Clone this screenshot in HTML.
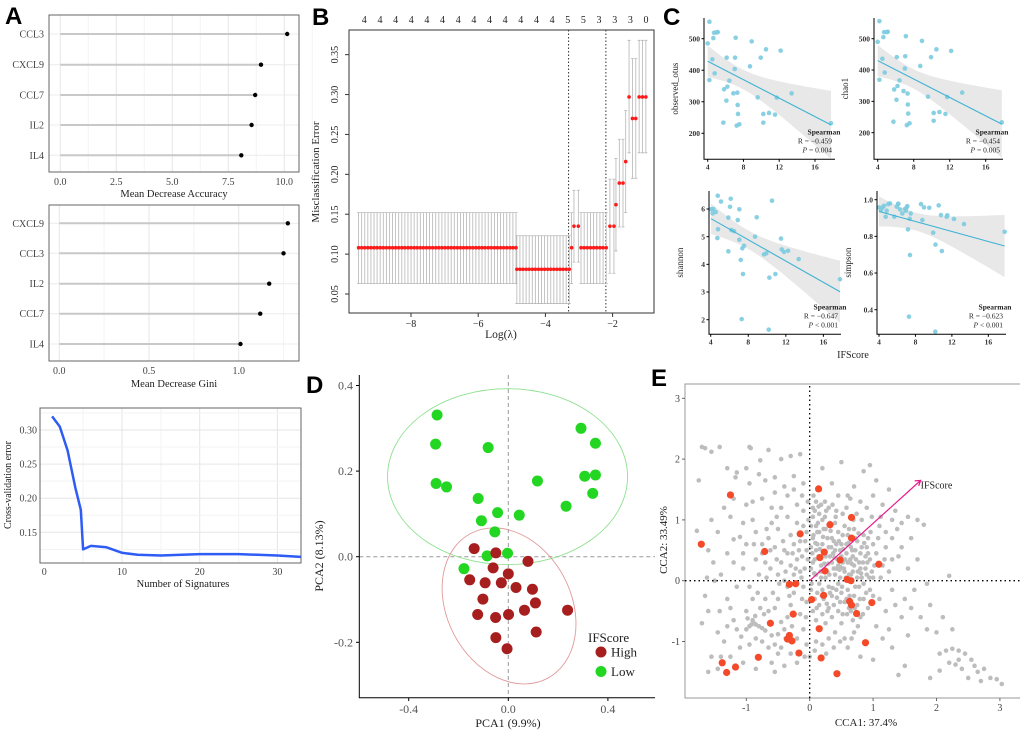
<!DOCTYPE html>
<html><head><meta charset="utf-8"><title>Multi-panel figure</title>
<style>
html,body{margin:0;padding:0;background:#fff;width:1020px;height:734px;overflow:hidden}
svg{display:block}
text{font-family:"Liberation Serif",serif}
.pl{font-family:"Liberation Sans",sans-serif;font-weight:bold;font-size:24px;fill:#000}
</style></head>
<body>
<svg id="fig" width="1020" height="734" viewBox="0 0 1020 734" xmlns="http://www.w3.org/2000/svg">
<text class="pl" x="5" y="24">A</text>
<text class="pl" x="312" y="25">B</text>
<text class="pl" x="663" y="25">C</text>
<text class="pl" x="306" y="393">D</text>
<text class="pl" x="651" y="386">E</text>
</svg>
<script>
// ---------- DATA ----------
const a1Genes=["CCL3","CXCL9","CCL7","IL2","IL4"];
const a1Values=[10.13,8.96,8.7,8.54,8.08];
const a1Ticks=[0,2.5,5,7.5,10];
const a2Genes=["CXCL9","CCL3","IL2","CCL7","IL4"];
const a2Values=[1.274,1.25,1.17,1.12,1.01];
const a2Ticks=[0,0.5,1.0];
const a3N=[1,2,3,4,4.7,5,6,8,10,12,15,20,25,30,33];
const a3Err=[0.32,0.305,0.27,0.215,0.183,0.125,0.13,0.128,0.12,0.117,0.116,0.118,0.118,0.116,0.114];
const a3XTicks=[0,10,20,30];
const a3YTicks=[0.15,0.20,0.25,0.30];
const bRunStart=[-9.56,-4.85,-3.22,-3.15,-2.94,-2.08,-1.9,-1.8,-1.61,-1.51,-1.41,-1.21];
const bRunEnd=[-4.875,-3.29,-3.22,-3.02,-2.19,-1.96,-1.9,-1.69,-1.61,-1.51,-1.31,-1.01];
const bRunCount=[52,18,1,2,9,2,1,2,1,1,2,3];
const bRunMean=[0.108,0.081,0.108,0.135,0.108,0.135,0.162,0.189,0.216,0.297,0.27,0.297];
const bRunLo=[0.063,0.038,0.063,0.090,0.063,0.076,0.104,0.134,0.152,0.227,0.195,0.227];
const bRunHi=[0.152,0.123,0.152,0.180,0.152,0.194,0.220,0.244,0.280,0.368,0.345,0.368];
const bTopLabels=["4","4","4","4","4","4","4","4","4","4","4","4","4","5","5","3","3","3","0"];
const bVlines=[-3.31,-2.2];
const bXTicks=[-8,-6,-4,-2];
const bYTicks=[0.05,0.10,0.15,0.20,0.25,0.30,0.35];
const cX1=[4.19,4.0,4.19,4.52,4.63,4.71,4.78,5.0,5.12,5.83,6.09,6.12,6.2,6.42,6.87,7.06,7.02,7.13,7.24,7.32,7.35,7.39,7.54,5.75,8.73,8.92,9.59,9.93,10.22,10.22,10.52,10.86,11.53,11.72,12.16,13.39,17.79];
const cObs=[553.9,485.2,369,434.5,502,519,390,520,521,339.5,303.6,439.8,347.9,366.9,326.7,439.8,403.9,503,224.3,328.9,289.8,261.3,228.6,233.8,412.3,491.5,314.1,439.8,261.3,233.8,466.2,264.4,259.2,313,462,326.7,231.7];
const cChao=[556,490,369,436,505,521,392,521,522,338,305,441,349,367,333,444,405,508,224,325,290,261,230,235,413,493,315,441,263,238,466,266,260,314,461,328,233];
const cX3=[4.04,4.28,4.21,4.53,4.75,5.1,4.78,4.71,5.88,5.88,6.06,6.13,6.2,6.48,6.88,7.05,7.05,7.2,7.37,7.44,7.55,7.3,8.72,8.9,10.53,9.68,9.93,10.25,10.89,11.49,11.56,11.81,12.24,13.37,10.18,17.77];
const cShannon=[5.99,6.0,5.84,5.89,6.48,6.27,5.27,4.95,5.69,4.47,6.08,6.37,5.24,5.2,5.6,5.99,4.89,4.16,4.58,3.65,4.67,2.02,5.0,5.7,6.3,4.36,4.4,3.52,3.65,4.93,4.54,4.45,4.49,4.19,1.64,3.46];
const cX4=[4.0,4.22,4.4,4.55,4.73,4.84,5.02,5.21,5.68,5.94,6.09,6.12,6.31,6.56,6.85,6.96,7.04,7.11,7.18,7.37,7.48,7.4,8.61,8.76,8.94,9.52,9.95,10.2,10.9,10.55,10.8,11.43,11.5,12.23,13.33,17.79,7.29,10.18];
const cSimpson=[0.958,0.944,0.958,0.967,0.907,0.94,0.976,0.98,0.907,0.962,0.976,0.978,0.947,0.925,0.949,0.94,0.958,0.965,0.838,0.896,0.925,0.698,0.976,0.889,0.958,0.956,0.82,0.755,0.72,0.969,0.916,0.907,0.915,0.895,0.867,0.825,0.362,0.28];
const cXTicks=[4,8,12,16];
const dGreenX=[-0.286,-0.292,-0.081,-0.29,-0.248,-0.121,-0.108,-0.043,0.044,-0.054,-0.085,-0.003,-0.178,0.117,0.292,0.35,0.307,0.35,0.339,0.232];
const dGreenY=[0.331,0.263,0.255,0.171,0.163,0.136,0.084,0.103,0.097,0.058,0.002,0.008,-0.028,0.177,0.3,0.265,0.188,0.191,0.148,0.118];
const dRedX=[-0.137,-0.05,-0.061,-0.155,-0.093,-0.028,0.0,0.031,0.079,0.097,-0.102,0.109,0.065,0.238,-0.123,-0.051,0.001,-0.05,0.112,-0.005];
const dRedY=[0.019,0.009,-0.026,-0.054,-0.061,-0.061,-0.04,-0.072,-0.011,-0.076,-0.099,-0.108,-0.125,-0.125,-0.135,-0.142,-0.135,-0.189,-0.176,-0.215];
const dXTicks=[-0.4,0.0,0.4];
const dYTicks=[-0.2,0.0,0.2,0.4];
const eRed=[[0.14,1.51],[-1.25,1.41],[-1.71,0.6],[-0.71,0.48],[-0.15,0.77],[0.66,1.04],[0.32,0.92],[0.66,0.7],[0.23,0.47],[0.16,0.38],[0.48,0.34],[1.09,0.27],[0.24,0.16],[0.59,0.02],[0.65,0.0],[-0.32,-0.06],[-0.22,-0.05],[0.03,-0.31],[0.22,-0.24],[0.63,-0.34],[0.66,-0.4],[0.98,-0.36],[0.74,-0.54],[-0.26,-0.55],[-0.62,-0.7],[-0.32,-0.9],[-0.35,-0.96],[-0.28,-0.99],[0.15,-0.79],[0.88,-1.02],[-0.17,-1.19],[-0.81,-1.26],[0.18,-1.27],[-1.38,-1.35],[-1.17,-1.42],[-1.31,-1.51],[0.43,-1.53]];
const eGrey=[[-1.7,2.2],[-1.65,2.18],[-1.55,2.12],[-1.42,2.2],[-1.3,1.85],[-1.17,1.7],[-1.0,1.85],[-0.95,2.2],[-0.93,2.18],[-0.65,2.15],[-0.78,1.98],[-0.45,2.0],[-0.3,2.05],[-0.15,2.08],[-0.8,1.75],[-0.95,1.6],[-1.15,1.78],[-0.7,1.65],[-0.55,1.7],[-0.4,1.55],[-0.25,1.72],[-0.1,1.6],[-1.75,1.65],[-1.78,0.82],[-1.6,0.5],[-1.52,0.3],[-1.4,0.1],[-1.3,0.45],[-1.2,0.68],[-1.1,0.72],[-1.0,0.6],[-0.9,1.0],[-0.85,0.8],[-0.75,0.6],[-0.6,0.95],[-0.5,0.85],[-0.45,1.2],[-0.35,1.05],[-0.2,1.25],[-0.1,1.15],[-0.9,1.3],[-1.0,1.25],[-1.25,1.05],[-1.45,0.8],[-0.62,0.2],[-0.7,0.3],[-0.8,0.1],[-0.95,-0.1],[-1.05,0.2],[-1.15,-0.1],[-1.3,-0.3],[-1.6,-0.5],[-1.65,-0.25],[-1.7,-0.7],[-1.45,-0.85],[-1.35,-1.0],[-1.55,-1.25],[-1.6,-1.5],[-1.25,-1.25],[-1.1,-1.1],[-1.0,-0.8],[-0.9,-0.65],[-0.88,-0.7],[-0.85,-0.72],[-0.8,-0.75],[-0.75,-0.78],[-0.7,-0.82],[-0.95,-0.75],[-1.2,-0.65],[-0.6,-0.9],[-0.55,-1.05],[-0.5,-1.2],[-0.6,-1.35],[-0.45,-1.1],[-0.4,-0.8],[-0.35,-0.6],[-0.3,-0.4],[-0.25,-0.2],[-0.5,-0.3],[-0.55,-0.45],[-0.65,-0.5],[-0.7,-0.3],[-0.4,0.0],[-0.45,0.3],[-0.35,0.45],[-0.25,0.6],[-0.3,0.75],[-0.2,0.35],[-0.15,0.15],[-0.1,-0.1],[-0.05,-0.35],[-0.15,-0.55],[-0.1,-0.8],[-0.05,-1.05],[0.0,-1.25],[-0.2,-1.35],
[0.05,1.2],[0.1,1.3],[0.05,1.05],[0.1,0.9],[0.15,1.1],[0.2,1.0],[0.25,0.85],[0.3,1.2],[0.35,0.7],[0.4,0.95],[0.45,0.8],[0.5,0.6],[0.55,0.9],[0.6,0.75],[0.65,0.55],[0.7,0.85],[0.75,0.65],[0.8,0.45],[0.85,0.75],[0.9,0.55],[0.95,0.35],[1.0,0.6],[1.05,0.45],[1.1,0.9],[1.15,0.25],[1.2,0.55],[0.05,0.7],[0.1,0.5],[0.15,0.8],[0.2,0.6],[0.25,0.4],[0.3,0.55],[0.35,0.3],[0.4,0.5],[0.45,0.25],[0.5,0.4],[0.55,0.15],[0.6,0.3],[0.65,0.1],[0.7,0.25],[0.75,0.05],[0.8,0.2],[0.85,-0.05],[0.9,0.1],[0.95,-0.15],[1.0,0.05],[0.05,0.3],[0.1,0.1],[0.15,-0.05],[0.2,-0.15],[0.25,0.05],[0.3,-0.1],[0.35,-0.25],[0.4,0.1],[0.45,-0.05],[0.5,-0.2],[0.55,-0.35],[0.6,-0.15],[0.65,-0.5],[0.7,-0.25],[0.75,-0.4],[0.8,-0.6],[0.85,-0.3],[0.05,-0.5],[0.1,-0.65],[0.15,-0.4],[0.2,-0.55],[0.25,-0.7],[0.3,-0.45],[0.35,-0.6],[0.4,-0.85],[0.45,-0.5],[0.5,-0.7],[0.55,-0.95],[0.6,-1.1],[0.3,-0.95],[0.2,-1.05],[0.1,-1.0],
[0.35,1.6],[0.5,1.95],[0.6,1.4],[0.7,1.55],[0.8,1.3],[0.85,1.8],[0.95,1.9],[1.0,1.4],[1.05,1.65],[1.15,1.25],[1.25,1.5],[1.35,1.15],[1.3,1.0],[1.45,0.95],[1.55,1.05],[1.6,0.7],[1.7,1.0],[1.8,0.92],[1.55,0.2],[1.45,0.55],[1.3,0.35],[1.25,0.15],[0.45,1.4],[0.2,1.85],
[1.1,-0.3],[1.2,-0.5],[1.3,-0.15],[1.5,-0.3],[1.45,-0.6],[1.6,-0.45],[1.75,-0.6],[1.85,-0.8],[1.05,-0.75],[1.15,-0.95],[1.3,-1.1],[1.5,-1.4],[1.4,-1.55],[1.85,-0.05],[2.2,0.08],[1.55,-0.9],[2.0,-0.85],[2.25,-0.8],[2.05,-1.2],[2.15,-1.15],[2.25,-1.12],[2.35,-1.15],[2.45,-1.2],[2.55,-1.3],[2.6,-1.4],[2.65,-1.5],[2.75,-1.45],[2.85,-1.6],[2.95,-1.62],[3.03,-1.7],[2.7,-1.65],[2.5,-1.6],[2.4,-1.45],[2.3,-1.38],[2.2,-1.35],[2.05,-1.48],[1.9,-1.6],[2.35,-1.3],[1.0,-1.3],[0.8,-1.25],[0.7,-0.85],
[0.02,0.2],[0.08,0.35],[0.12,0.6],[0.18,0.25],[0.22,0.85],[0.28,0.15],[0.32,0.4],[0.38,0.65],[0.42,0.2],[0.48,0.5],[0.52,0.75],[0.58,0.45],[0.62,0.1],[0.68,0.4],[0.72,0.7],[0.78,0.3],[0.82,0.55],[0.88,0.2],[0.92,0.45],[0.98,0.15],[0.02,0.9],[0.08,1.15],[0.12,0.8],[0.18,1.25],[0.22,0.45],[0.28,0.7],[0.32,0.95],[0.38,0.2],[0.42,0.6],[0.48,0.05],[0.52,0.3],[0.58,0.6],[0.62,0.85],[0.68,0.15],[0.72,0.5],[0.78,-0.1],[0.82,0.05],[0.88,0.4],[0.92,0.7],[0.02,-0.15],[0.08,-0.3],[0.12,-0.2],[0.18,0.05],[0.22,-0.3],[0.28,-0.5],[0.32,-0.2],[0.38,-0.4],[0.42,-0.15],[0.48,-0.35],[0.52,-0.55],[0.58,-0.3],[0.62,-0.45],[0.68,-0.65],[0.72,-0.1],[0.02,0.55],[0.06,0.75],[0.14,0.4],[0.24,1.05],[0.34,0.55],[0.44,0.35],[0.54,0.2],[0.64,0.35],[-0.05,0.5],[-0.08,0.2],[-0.12,0.4],[-0.05,0.8],[-0.15,0.65],[-0.02,1.0],[-0.06,-0.6],[-0.12,-0.3],[-0.2,-0.05],[-0.25,0.1],[-0.3,0.25],[-0.35,-0.1],[-0.4,0.5],[-0.5,0.1],[-0.55,0.55],[-0.65,0.7],[-0.75,0.45],[-0.85,0.35],[-1.0,-0.5],[-0.9,-0.3],[-1.05,0.95],[-0.6,1.2],[-0.35,1.4],
[0.04,0.45],[0.09,0.62],[0.13,0.95],[0.17,0.15],[0.21,0.72],[0.26,1.15],[0.29,0.28],[0.33,0.82],[0.37,0.45],[0.41,1.05],[0.46,0.65],[0.49,0.22],[0.53,0.52],[0.57,0.05],[0.61,0.62],[0.66,0.28],[0.69,1.0],[0.73,0.35],[0.77,0.78],[0.81,0.12],[0.86,0.62],[0.91,0.3],[0.96,0.8],[1.02,0.25],[1.08,0.7],[0.03,-0.05],[0.07,0.12],[0.11,-0.45],[0.16,0.52],[0.19,-0.25],[0.23,0.28],[0.27,-0.38],[0.31,0.1],[0.36,-0.12],[0.39,0.38],[0.43,-0.28],[0.47,0.18],[0.51,-0.1],[0.56,0.35],[0.59,-0.55],[0.63,-0.25],[0.67,0.5],[0.71,-0.45],[0.76,0.15],[0.79,-0.3],[0.84,0.3],[0.89,-0.2],[0.94,0.05],[-0.03,0.35],[-0.07,0.65],[-0.1,0.9],[-0.13,0.05],[-0.17,0.5],[-0.22,0.2],[-0.27,0.45],[-0.32,-0.25],[-0.38,0.15],[-0.42,0.65],[-0.48,-0.05],[-0.52,0.35],[-0.58,-0.2],[-0.62,0.5],[-0.68,0.05],[-0.72,-0.55],[-0.78,-0.45],[-0.82,-0.2],[-0.86,-0.58],[-0.92,-0.72],[-0.98,-0.62],[-0.03,1.3],[0.06,1.4],[0.14,1.22],[0.24,1.3],[0.36,1.25],[0.42,1.15],[0.52,1.1],[0.58,1.2],[0.64,1.35],[0.74,1.1],[0.82,1.0],[0.9,1.2],[0.98,1.05],[1.12,1.05],[1.2,0.8],[1.3,0.7],[1.38,0.85],[1.4,0.4],[1.18,0.35],[1.12,0.05],[1.0,-0.25],[0.92,-0.45],[0.84,-0.55],[0.76,-0.75],[0.66,-0.95],[0.48,-1.0],[0.38,-1.1],[0.26,-1.2],[0.08,-1.15],[-0.08,-1.25],[-0.2,-0.95],[-0.28,-0.75],[-0.38,-0.95],[-0.45,-0.68],[-0.5,-0.88],[-0.65,-1.1],[-0.75,-1.0],[-0.85,-0.95],[-0.95,-1.05],[-1.08,-0.92],[-1.15,-0.8],[-1.3,-0.75],[-1.42,-0.5],[-1.5,0.0],[-1.2,0.3],[-1.05,0.45],[-0.88,0.6],[-0.68,0.85],[-0.52,1.05],[-0.2,0.95],[-0.12,1.4],[-0.25,1.5],[-0.55,1.45],[-0.75,1.35],[-1.2,1.35],[-1.35,1.2],[-1.55,1.0],[-1.62,0.05],[-1.25,-0.45],[-1.05,-1.35],[-0.85,-1.45],[-0.3,-1.2],[-0.4,-1.4],[-0.55,-1.5],[-1.4,-1.25],[-1.45,-1.45],[1.25,-0.8],[1.35,-0.4],[1.65,-0.15],[1.7,0.35],[1.9,-0.4],[2.1,-0.6]];
const eArrow=[1.75,1.65];
const eTicks=[-1,0,1,2,3];

// ---------- HELPERS ----------
const NS="http://www.w3.org/2000/svg";
const svg=document.getElementById('fig');
function add(parent,tag,attrs,txt){const e=document.createElementNS(NS,tag);for(const k in attrs)e.setAttribute(k,attrs[k]);if(txt!==undefined)e.textContent=txt;parent.appendChild(e);return e;}
function grp(name){const g=document.createElementNS(NS,'g');svg.appendChild(g);


return g;}
function fmt(v,d){return v<0?'-'+Math.abs(v).toFixed(d):v.toFixed(d);}

// ---------- PANEL A1 ----------
(function(){
const g=grp('panel-a-accuracy');
const X=v=>60.3+v*22.4; const rows=[34,64.7,95,125,155.3];
add(g,'rect',{x:49,y:15,width:250,height:157,fill:'#fff'});
for(let v=0;v<=11.25;v+=1.25){const l=add(g,'line',{x1:X(v),x2:X(v),y1:15,y2:172,stroke:(v%2.5===0)?'#e6e6e6':'#f3f3f3','stroke-width':1});

}
a1Genes.forEach((gname,i)=>{const y=rows[i];
add(g,'line',{x1:49,x2:299,y1:y,y2:y,stroke:'#ececec','stroke-width':1});
const s=add(g,'line',{x1:X(0),x2:X(a1Values[i]),y1:y,y2:y,stroke:'#c8c8c8','stroke-width':2});


const c=add(g,'circle',{cx:X(a1Values[i]),cy:y,r:2.2,fill:'#000'});


const t=add(g,'text',{x:44,y:y+3.5,'text-anchor':'end','font-size':10,fill:'#444'},gname);

});
add(g,'rect',{x:49,y:15,width:250,height:157,fill:'none',stroke:'#666','stroke-width':1});
a1Ticks.forEach(v=>{const t=add(g,'text',{x:X(v),y:185,'text-anchor':'middle','font-size':10,fill:'#444'},v.toFixed(1));

});
const tt=add(g,'text',{x:174,y:197,'text-anchor':'middle','font-size':10.5,fill:'#222'},'Mean Decrease Accuracy');


})();

// ---------- PANEL A2 ----------
(function(){
const g=grp('panel-a-gini');
const X=v=>59.3+v*179.4; const rows=[223.3,253.3,283.7,313.7,344];
for(let v=0;v<=1.35;v+=0.25){const l=add(g,'line',{x1:X(v),x2:X(v),y1:205,y2:361,stroke:(Math.abs(v*2-Math.round(v*2))<1e-6)?'#e6e6e6':'#f3f3f3','stroke-width':1});

}
a2Genes.forEach((gname,i)=>{const y=rows[i];
add(g,'line',{x1:49,x2:299,y1:y,y2:y,stroke:'#ececec','stroke-width':1});
const s=add(g,'line',{x1:X(0),x2:X(a2Values[i]),y1:y,y2:y,stroke:'#c8c8c8','stroke-width':2});


const c=add(g,'circle',{cx:X(a2Values[i]),cy:y,r:2.2,fill:'#000'});


const t=add(g,'text',{x:44,y:y+3.5,'text-anchor':'end','font-size':10,fill:'#444'},gname);

});
add(g,'rect',{x:49,y:205,width:250,height:156,fill:'none',stroke:'#666','stroke-width':1});
a2Ticks.forEach(v=>{const t=add(g,'text',{x:X(v),y:374,'text-anchor':'middle','font-size':10,fill:'#444'},v.toFixed(1));

});
const tt=add(g,'text',{x:174,y:387,'text-anchor':'middle','font-size':10.5,fill:'#222'},'Mean Decrease Gini');


})();

// ---------- PANEL A3 ----------
(function(){
const g=grp('panel-a-cv-error');
const X=v=>44.3+v*7.77, Y=v=>430-(v-0.30)*2046/3;
for(let v=5;v<=35;v+=5){if(X(v)>301)break;add(g,'line',{x1:X(v),x2:X(v),y1:408,y2:563,stroke:v%10===0?'#e6e6e6':'#f3f3f3'});}
for(let v=0.125;v<=0.33;v+=0.025){add(g,'line',{x1:40,x2:301,y1:Y(v),y2:Y(v),stroke:(Math.round(v*1000)%50===0)?'#e6e6e6':'#f3f3f3'});}
add(g,'rect',{x:40,y:408,width:261,height:155,fill:'none',stroke:'#666'});
let d='';a3N.forEach((n,i)=>{d+=(i?'L':'M')+X(n).toFixed(1)+','+Y(a3Err[i]).toFixed(1);});
const p=add(g,'path',{d:d,fill:'none',stroke:'#2e5cf5','stroke-width':2.5,'stroke-linejoin':'round'});


a3XTicks.forEach(v=>{const t=add(g,'text',{x:X(v),y:575,'text-anchor':'middle','font-size':10,fill:'#444'},String(v));

});
a3YTicks.forEach(v=>{const t=add(g,'text',{x:37,y:Y(v)+3.5,'text-anchor':'end','font-size':10,fill:'#444'},v.toFixed(2));

});
const tx=add(g,'text',{x:183,y:587,'text-anchor':'middle','font-size':10.5,fill:'#222'},'Number of Signatures');


const ty=add(g,'text',{x:0,y:0,transform:'translate(11,485) rotate(-90)','text-anchor':'middle','font-size':10,fill:'#222'},'Cross-validation error');


})();

// ---------- PANEL B ----------
(function(){
const g=grp('panel-b-lasso');
const X=v=>411+(v+8)*33.6, Y=v=>294-(v-0.05)*797.8;
add(g,'rect',{x:349,y:30,width:305,height:283,fill:'none',stroke:'#333','stroke-width':1});
bVlines.forEach(v=>{const l=add(g,'line',{x1:X(v),x2:X(v),y1:30,y2:313,stroke:'#333','stroke-dasharray':'1.5,2'});

});
const pts=[];
bRunStart.forEach((s,i)=>{const n=bRunCount[i];for(let k=0;k<n;k++){const lam=n>1?s+(bRunEnd[i]-s)*k/(n-1):s;pts.push([lam,bRunMean[i],bRunLo[i],bRunHi[i]]);}});
pts.forEach(p=>{const x=X(p[0]);
const e=add(g,'path',{d:`M${x},${Y(p[2])}L${x},${Y(p[3])}M${x-1.5},${Y(p[2])}L${x+1.5},${Y(p[2])}M${x-1.5},${Y(p[3])}L${x+1.5},${Y(p[3])}`,stroke:'#b5b5b5','stroke-width':0.8,fill:'none'});

});
pts.forEach(p=>{const c=add(g,'circle',{cx:X(p[0]),cy:Y(p[1]),r:1.8,fill:'#ff1a1a'});

});
bTopLabels.forEach((s,i)=>{const t=add(g,'text',{x:364.3+i*15.65,y:23,'text-anchor':'middle','font-size':10,fill:'#222'},s);

});
bXTicks.forEach(v=>{add(g,'line',{x1:X(v),x2:X(v),y1:313,y2:317,stroke:'#333'});
const t=add(g,'text',{x:X(v),y:327,'text-anchor':'middle','font-size':10,fill:'#222'},'\u2212'+Math.abs(v));

});
bYTicks.forEach(v=>{add(g,'line',{x1:345,x2:349,y1:Y(v),y2:Y(v),stroke:'#333'});
const t=add(g,'text',{x:0,y:0,transform:`translate(338,${Y(v)}) rotate(-90)`,'text-anchor':'middle','font-size':10,fill:'#222'},v.toFixed(2));

});
const tx=add(g,'text',{x:501,y:338,'text-anchor':'middle','font-size':11.5,fill:'#222'},'Log(\u03bb)');


const ty=add(g,'text',{x:0,y:0,transform:'translate(319,172) rotate(-90)','text-anchor':'middle','font-size':11,fill:'#222'},'Misclassification Error');


})();

// ---------- PANEL C ----------
function scatterC(name,xs,ys,X,Y,box,yTicks,yDec,ytitle,stats){
const g=grp(name);
const n=xs.length;let mx=0,my=0;xs.forEach((v,i)=>{mx+=v;my+=ys[i];});mx/=n;my/=n;
let sxx=0,sxy=0;xs.forEach((v,i)=>{sxx+=(v-mx)*(v-mx);sxy+=(v-mx)*(ys[i]-my);});
const b=sxy/sxx,a=my-b*mx;let sse=0;xs.forEach((v,i)=>{const r=ys[i]-(a+b*v);sse+=r*r;});
const s=Math.sqrt(sse/(n-2));const x0=Math.min(...xs),x1=Math.max(...xs);
let up='',lo=[];for(let k=0;k<=30;k++){const x=x0+(x1-x0)*k/30;const se=s*Math.sqrt(1/n+(x-mx)*(x-mx)/sxx);const yh=a+b*x;
up+=(k?'L':'M')+X(x).toFixed(1)+','+Y(yh+2.03*se).toFixed(1);lo.unshift('L'+X(x).toFixed(1)+','+Y(yh-2.03*se).toFixed(1));}
const band=add(g,'path',{d:up+lo.join('')+'Z',fill:'#d9d9d9','fill-opacity':0.6,stroke:'none'});


xs.forEach((v,i)=>{const c=add(g,'circle',{cx:X(v),cy:Y(ys[i]),r:2.3,fill:'#7ccbe0','fill-opacity':0.9});

});
const ln=add(g,'line',{x1:X(x0),y1:Y(a+b*x0),x2:X(x1),y2:Y(a+b*x1),stroke:'#3fb3d3','stroke-width':1.1});


add(g,'path',{d:`M${box.l},${box.t}L${box.l},${box.b}L${box.r},${box.b}`,fill:'none',stroke:'#000','stroke-width':1});
cXTicks.forEach(v=>{add(g,'line',{x1:X(v),x2:X(v),y1:box.b,y2:box.b+2.5,stroke:'#000'});
const t=add(g,'text',{x:X(v),y:box.b+10,'text-anchor':'middle','font-size':7.5,'font-weight':'bold',fill:'#333'},String(v));

});
yTicks.forEach(v=>{add(g,'line',{x1:box.l-2.5,x2:box.l,y1:Y(v),y2:Y(v),stroke:'#000'});
const t=add(g,'text',{x:box.l-4,y:Y(v)+2.7,'text-anchor':'end','font-size':7.5,'font-weight':'bold',fill:'#333'},v.toFixed(yDec));

});
const ty=add(g,'text',{x:0,y:0,transform:`translate(${box.l-26},${(box.t+box.b)/2}) rotate(-90)`,'text-anchor':'middle','font-size':9,fill:'#222'},ytitle);


const rx=box.r-3;
const t1=add(g,'text',{x:rx-8,y:box.b-25,'text-anchor':'middle','font-size':7.5,'font-weight':'bold',fill:'#222'},'Spearman');


const t2=add(g,'text',{x:rx,y:box.b-16,'text-anchor':'end','font-size':7.5,fill:'#222'},'R = \u2212'+stats[0]);


const t3=add(g,'text',{x:rx,y:box.b-7,'text-anchor':'end','font-size':7.5,fill:'#222'});
add(t3,'tspan',{'font-style':'italic'},'P');add(t3,'tspan',{},' '+stats[1]);


}
scatterC('panel-c-observed-otus',cX1,cObs,v=>707.7+(v-4)*8.94,v=>38.7-(v-500)*0.3153,{l:704,t:18,b:159.3,r:835},[200,300,400,500],0,'observed_otus',['0.459','= 0.004']);
scatterC('panel-c-chao1',cX1,cChao,v=>877.7+(v-4)*9.0,v=>38.7-(v-500)*0.3133,{l:874,t:18,b:159.3,r:1003},[200,300,400,500],0,'chao1',['0.454','= 0.005']);
scatterC('panel-c-shannon',cX3,cShannon,v=>710.7+(v-4)*9.39,v=>209-(v-6)*27.67,{l:709,t:191,b:334.3,r:841},[2,3,4,5,6],0,'shannon',['0.647','< 0.001']);
scatterC('panel-c-simpson',cX4,cSimpson,v=>879+(v-4)*9.11,v=>199.7-(v-1)*183.3,{l:877,t:191,b:334.3,r:1006},[0.4,0.6,0.8,1.0],1,'simpson',['0.623','< 0.001']);
(function(){const t=add(svg,'text',{x:853,y:358,'text-anchor':'middle','font-size':10,fill:'#222'},'IFScore');

})();

// ---------- PANEL D ----------
(function(){
const g=grp('panel-d-pca');
const X=v=>508.3+v*249, Y=v=>556.7-v*428;
add(g,'line',{x1:X(0),x2:X(0),y1:375,y2:697.7,stroke:'#999','stroke-dasharray':'4,3'});
add(g,'line',{x1:359.3,x2:655,y1:Y(0),y2:Y(0),stroke:'#999','stroke-dasharray':'4,3'});
const e1=add(g,'ellipse',{cx:X(-0.003),cy:Y(0.187),rx:120,ry:88,fill:'none',stroke:'#8fe08f','stroke-width':0.9});


const e2=add(g,'ellipse',{cx:0,cy:0,rx:82,ry:62,transform:`translate(${X(0.003)},${Y(-0.115)}) rotate(62)`,fill:'none',stroke:'#e09a9a','stroke-width':0.9});


dGreenX.forEach((v,i)=>{const c=add(g,'circle',{cx:X(v),cy:Y(dGreenY[i]),r:5.5,fill:'#22d622'});

});
dRedX.forEach((v,i)=>{const c=add(g,'circle',{cx:X(v),cy:Y(dRedY[i]),r:5.5,fill:'#a61e1e'});

});
add(g,'path',{d:'M359.3,375L359.3,697.7L655,697.7',fill:'none',stroke:'#000','stroke-width':1});
dXTicks.forEach(v=>{add(g,'line',{x1:X(v),x2:X(v),y1:697.7,y2:701,stroke:'#000'});
const t=add(g,'text',{x:X(v),y:713,'text-anchor':'middle','font-size':12,fill:'#555'},fmt(v,1));

});
dYTicks.forEach(v=>{add(g,'line',{x1:356,x2:359.3,y1:Y(v),y2:Y(v),stroke:'#000'});
const t=add(g,'text',{x:353,y:Y(v)+4,'text-anchor':'end','font-size':12,fill:'#555'},fmt(v,1));

});
const tx=add(g,'text',{x:508,y:727,'text-anchor':'middle','font-size':12,fill:'#222'},'PCA1 (9.9%)');


const ty=add(g,'text',{x:0,y:0,transform:'translate(323,556) rotate(-90)','text-anchor':'middle','font-size':12,fill:'#222'},'PCA2 (8.13%)');


const lt=add(g,'text',{x:588,y:642,'font-size':13,fill:'#222'},'IFScore');


const lh=add(g,'circle',{cx:601,cy:652,r:5.5,fill:'#a61e1e'});


const lht=add(g,'text',{x:611,y:656.5,'font-size':13,fill:'#222'},'High');


const ll=add(g,'circle',{cx:601,cy:671.5,r:5.5,fill:'#22d622'});


const llt=add(g,'text',{x:611,y:676,'font-size':13,fill:'#222'},'Low');


})();

// ---------- PANEL E ----------
(function(){
const g=grp('panel-e-cca');
const X=v=>809.7+v*63.4, Y=v=>580.7-v*60.8;
add(g,'rect',{x:685,y:384,width:340,height:314,fill:'none',stroke:'#999','stroke-width':1});
eGrey.forEach(p=>{const c=add(g,'circle',{cx:X(p[0]),cy:Y(p[1]),r:2.3,fill:'#bdbdbd'});

});
add(g,'line',{x1:X(0),x2:X(0),y1:386,y2:698,stroke:'#000','stroke-width':1.3,'stroke-dasharray':'1.5,3'});
add(g,'line',{x1:685,x2:1020,y1:Y(0),y2:Y(0),stroke:'#000','stroke-width':1.3,'stroke-dasharray':'1.5,3'});
eRed.forEach(p=>{const c=add(g,'circle',{cx:X(p[0]),cy:Y(p[1]),r:3.6,fill:'#f44a2a'});

});
const ax=X(eArrow[0]),ay=Y(eArrow[1]);
const ar=add(g,'path',{d:`M${X(0)},${Y(0)}L${ax},${ay}M${ax-6},${ay+0.5}L${ax},${ay}L${ax-2},${ay+5.5}`,stroke:'#e8198b','stroke-width':1.2,fill:'none'});


const al=add(g,'text',{x:ax,y:ay+8,'font-size':10,fill:'#222'},'IFScore');


eTicks.forEach(v=>{add(g,'line',{x1:X(v),x2:X(v),y1:698,y2:701,stroke:'#666'});
const t=add(g,'text',{x:X(v),y:711,'text-anchor':'middle','font-size':10,fill:'#444'},String(v));


add(g,'line',{x1:682,x2:685,y1:Y(v),y2:Y(v),stroke:'#666'});
const u=add(g,'text',{x:680,y:Y(v)+3.5,'text-anchor':'end','font-size':10,fill:'#444'},String(v));

});
const tx=add(g,'text',{x:866,y:726,'text-anchor':'middle','font-size':11,fill:'#222'},'CCA1:  37.4%');


const ty=add(g,'text',{x:0,y:0,transform:'translate(667,540) rotate(-90)','text-anchor':'middle','font-size':11,fill:'#222'},'CCA2: 33.49%');


})();
</script>
</body></html>
